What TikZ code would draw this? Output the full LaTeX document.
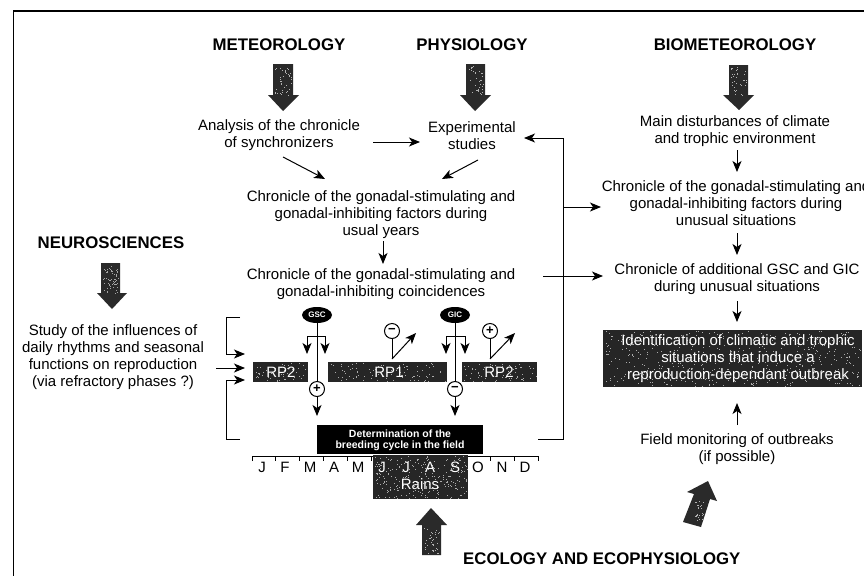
\documentclass[tikz,border=0pt]{standalone}
\usepackage{fontspec}
\setmainfont{Liberation Sans}
\usetikzlibrary{arrows.meta,calc,shapes.geometric}
\definecolor{boxgrey}{HTML}{262626}
\definecolor{fatgrey}{HTML}{2A2A2A}
\tikzset{
  x=1pt,y=-1pt,
  arr/.style={draw=black,line width=1pt,-{Stealth[length=11pt,width=9pt,inset=3pt]}},
  ln/.style={draw=black,line width=1pt},
  body/.style={inner sep=0pt,align=center,font=\fontsize{15}{17}\selectfont},
  title/.style={inner sep=0pt,align=center,font=\fontsize{16.8}{18}\selectfont\bfseries},
  whitetext/.style={body,text=white},
  darkbox/.style={fill=boxgrey,inner sep=0pt,anchor=north west},
  fat/.style={fill=fatgrey},
  sign/.style={circle,draw=black,line width=1pt,fill=white,minimum size=15pt,inner sep=0pt,font=\fontsize{13}{13}\selectfont\bfseries},
  oval/.style={ellipse,fill=black,inner sep=0pt,minimum width=30pt,minimum height=16pt,text=white,font=\fontsize{8}{8}\selectfont\bfseries},
  month/.style={inner sep=0pt,font=\fontsize{15}{15}\selectfont},
}
\newcommand{\speck}[6]{% x0 y0 x1 y1 n colour
  \foreach \i in {1,...,#5}{
    \pgfmathsetmacro{\px}{#1+rnd*(#3-#1)}
    \pgfmathsetmacro{\py}{#2+rnd*(#4-#2)}
    \fill[#6] (\px,\py) rectangle ++(1,1);
  }}
\begin{document}
\begin{tikzpicture}
\pgfmathsetseed{4711}
\useasboundingbox (0,0) rectangle (864,576);
\fill[white] (0,0) rectangle (864,576);
% frame
\draw[line width=1.3pt] (864,11) -- (13.5,11) -- (13.5,576);

% titles
\node[title] (met) at (279,45) {METEOROLOGY};
\node[title] (phy) at (472,45) {PHYSIOLOGY};
\node[title] (bio) at (735,45) {BIOMETEOROLOGY};
\node[title] (neu) at (111,243) {NEUROSCIENCES};
\node[title,anchor=west] (eco) at (463,559) {ECOLOGY AND ECOPHYSIOLOGY};

% fat arrows
\fill[fat] (273,64) -- (293,64) -- (293,95) -- (299,95) -- (283,111) -- (268,95) -- (273,95) -- cycle;
\fill[fat] (466,64) -- (485,64) -- (485,95) -- (491,95) -- (475,111) -- (460,95) -- (466,95) -- cycle;
\fill[fat] (729,65) -- (748,65) -- (748,95) -- (754,95) -- (739,110) -- (723,95) -- (729,95) -- cycle;
\fill[fat] (101,263) -- (120,263) -- (120,293) -- (127,293) -- (112,309) -- (97,293) -- (101,293) -- cycle;
\fill[fat] (422,555) -- (441,555) -- (441,525) -- (447,525) -- (431,508) -- (416,525) -- (422,525) -- cycle;
\fill[fat] (683,522) -- (701,527) -- (710,499) -- (717,501) -- (708,481) -- (687,492) -- (694,494) -- cycle;
\speck{275}{66}{291}{95}{40}{gray!60}
\speck{468}{66}{483}{95}{35}{gray!60}
\speck{731}{67}{746}{95}{35}{gray!60}
\speck{103}{265}{118}{293}{60}{gray!70}
\speck{424}{527}{439}{553}{35}{gray!60}
\speck{695}{500}{703}{520}{25}{gray!60}

% text blocks
\node[body] (ana) at (279,135.5) {Analysis of the chronicle\\of synchronizers};
\node[body] (exp) at (472,135.5) {Experimental\\studies};
\node[body] (chr1) at (381,214.5) {Chronicle of the gonadal-stimulating and\\gonadal-inhibiting factors during\\usual years};
\node[body] (chr2) at (381,284.5) {Chronicle of the gonadal-stimulating and\\gonadal-inhibiting coincidences};
\node[body] (mai) at (735,131.5) {Main disturbances of climate\\and trophic environment};
\node[body] (chr3) at (736,203) {Chronicle of the gonadal-stimulating and\\gonadal-inhibiting factors during\\unusual situations};
\node[body] (chr4) at (737,279.5) {Chronicle of additional GSC and GIC\\during unusual situations};
\node[body] (fld) at (737,449.5) {Field monitoring of outbreaks\\(if possible)};
\node[body] (stu) at (113,357.5) {Study of the influences of\\daily rhythms and seasonal\\functions on reproduction\\(via refractory phases ?)};

% identification box
\node[darkbox,minimum width=259pt,minimum height=57pt] (idb) at (603,330) {};
\speck{604}{331}{861}{386}{500}{gray!65}
\node[whitetext] (idt) at (738,359) {Identification of climatic and trophic\\situations that induce a\\reproduction-dependant outbreak};

% month scale
\draw[ln] (252,461) -- (252,456) -- (538,456) -- (538,461);
\foreach \k in {1,...,11}{\draw[ln] ({252+23.83*\k},456) -- ({252+23.83*\k},461);}

% rain box
\node[darkbox,minimum width=95pt,minimum height=44pt] (rab) at (373,455) {};
\speck{374}{456}{467}{498}{260}{gray!65}
% month labels
\foreach \m/\xx/\cc [count=\n] in {J/262/black,F/285/black,M/310/black,A/334/black,M/358/black,J/382/white,J/406/white,A/430/white,S/455/white,O/478/black,N/502/black,D/525/black}
  \node[month,text=\cc] (mon\n) at (\xx,467) {\m};
\node[whitetext] (rat) at (420,484) {Rains};

% determination
\node[darkbox,fill=black,minimum width=166pt,minimum height=29pt] (deb) at (317,425) {};
\node[inner sep=0pt,align=center,text=white,font=\fontsize{10.5}{11.5}\selectfont\bfseries] (det) at (400,440.5) {Determination of the\\breeding cycle in the field};

% RP boxes
\node[darkbox,minimum width=55pt,minimum height=20pt] (rpa) at (253,362) {};
\node[darkbox,minimum width=119pt,minimum height=20pt] (rpb) at (328,362) {};
\node[darkbox,minimum width=75pt,minimum height=20pt] (rpc) at (462,362) {};
\speck{254}{363}{307}{381}{50}{gray!65}
\speck{329}{363}{446}{381}{90}{gray!65}
\speck{463}{363}{536}{381}{70}{gray!65}
\node[whitetext] (rpat) at (281,372) {RP2};
\node[whitetext] (rpbt) at (389,372) {RP1};
\node[whitetext] (rpct) at (499,372) {RP2};

% GSC / GIC
\node[oval] (gsc) at (317,315) {GSC};
\node[oval] (gic) at (455,315) {GIC};
\node[sign] (pa) at (317,389) {+};
\node[sign] (ma) at (455,389) {\raisebox{1pt}{−}};
\node[sign] (mb) at (392,331) {\raisebox{1pt}{−}};
\node[sign] (pb) at (490,331) {+};
\coordinate (gscb) at (317,336);
\coordinate (gicb) at (455,336);
\coordinate (pae) at (317,416);
\coordinate (mae) at (455,416);
\coordinate (gscl) at (307,354);
\coordinate (gscr) at (325,354);
\coordinate (gicl) at (446,354);
\coordinate (gicr) at (465,354);
\draw[ln] (gsc) -- (pa);
\draw[ln] (gic) -- (ma);
\draw[arr] (pa) -- (pae);
\draw[arr] (ma) -- (mae);
\draw[arr] (gscb) -| (gscl);
\draw[arr] (gscb) -| (gscr);
\draw[arr] (gicb) -| (gicl);
\draw[arr] (gicb) -| (gicr);
\coordinate (mbk) at (392,359);
\coordinate (pbk) at (490,359);
\coordinate (mbt) at (416,333);
\coordinate (pbt) at (515,333);
\draw[ln] (mb) -- (mbk);
\draw[arr] (mbk) -- (mbt);
\draw[ln] (pb) -- (pbk);
\draw[arr] (pbk) -- (pbt);

% flow arrows
\coordinate (a1s) at (373,142);  \coordinate (a1e) at (420,142);
\coordinate (a2s) at (283,157);  \coordinate (a2e) at (325,179);
\coordinate (a3s) at (478,160);  \coordinate (a3e) at (442,179);
\coordinate (a4s) at (383,241);  \coordinate (a4e) at (383,264);
\coordinate (a5s) at (737,150);  \coordinate (a5e) at (737,172);
\coordinate (a6s) at (737,233);  \coordinate (a6e) at (737,255);
\coordinate (a7s) at (737,301);  \coordinate (a7e) at (737,322);
\coordinate (a8s) at (737,425);  \coordinate (a8e) at (737,403);
\draw[arr] (a1s) -- (a1e);
\draw[arr] (a2s) -- (a2e);
\draw[arr] (a3s) -- (a3e);
\draw[arr] (a4s) -- (a4e);
\draw[arr] (a5s) -- (a5e);
\draw[arr] (a6s) -- (a6e);
\draw[arr] (a7s) -- (a7e);
\draw[arr] (a8s) -- (a8e);

% feedback loop on the right
\coordinate (fbt) at (563,138);
\coordinate (fbb) at (563,439);
\coordinate (fbm) at (563,207);
\coordinate (fbs) at (538,439);
\coordinate (fbx) at (524,138);
\coordinate (fbo) at (601,207);
\coordinate (c2s) at (543,276);
\coordinate (c2e) at (603,276);
\draw[ln] (fbs) -- (fbb) -- (fbt);
\draw[arr] (fbt) -- (fbx);
\draw[arr] (fbm) -- (fbo);
\draw[arr] (c2s) -- (c2e);

% left bracket
\coordinate (bu) at (240,317);
\coordinate (bv) at (226,317);
\coordinate (bw) at (226,354);
\coordinate (bl) at (240,439);
\coordinate (bx) at (226,439);
\coordinate (by) at (226,380);
\coordinate (tu) at (245,354);
\coordinate (tm) at (245,368);
\coordinate (tl) at (245,380);
\coordinate (sm) at (216,368);
\draw[arr] (bu) -- (bv) -- (bw) -- (tu);
\draw[arr] (sm) -- (tm);
\draw[arr] (bl) -- (bx) -- (by) -- (tl);
\end{tikzpicture}
\end{document}
